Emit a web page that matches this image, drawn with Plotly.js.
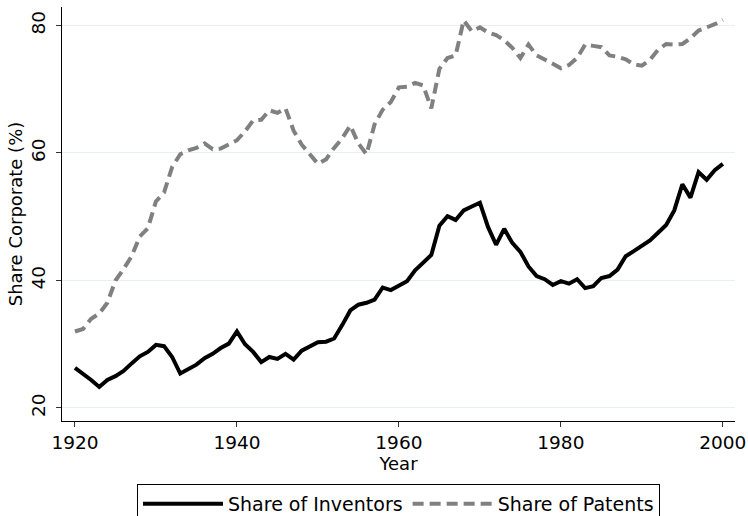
<!DOCTYPE html>
<html>
<head>
<meta charset="utf-8">
<script src="https://cdn.plot.ly/plotly-3.0.1.min.js"></script>
<style>html,body{margin:0;padding:0;background:#fff;}#chart{width:748px;height:516px;}</style>
</head>
<body>
<div id="chart"></div>
<script>
const years = [];
for (let y = 1920; y <= 2000; y++) years.push(y);

const shareInventors = [
  26.3, 25.4, 24.4, 23.3, 24.4, 25.0, 25.8, 27.0, 28.1, 28.8,
  29.9, 29.7, 28.0, 25.4, 26.1, 26.8, 27.8, 28.5, 29.4, 30.1,
  32.0, 30.0, 28.8, 27.2, 28.0, 27.7, 28.5, 27.6, 29.0, 29.6,
  30.3, 30.4, 30.9, 33.0, 35.3, 36.2, 36.5, 37.0, 38.9, 38.5,
  39.2, 39.9, 41.6, 42.8, 44.0, 48.6, 50.1, 49.5, 51.0, 51.6,
  52.2, 48.4, 45.6, 48.1, 45.9, 44.5, 42.2, 40.7, 40.2, 39.3,
  39.9, 39.5, 40.2, 38.8, 39.1, 40.4, 40.7, 41.7, 43.8, 44.6,
  45.5, 46.3, 47.5, 48.7, 51.0, 55.1, 53.0, 57.0, 55.8, 57.3,
  58.3
];

const sharePatents = [
  32.0, 32.4, 34.0, 34.8, 36.5, 40.0, 41.8, 43.8, 46.9, 48.2,
  52.4, 53.8, 57.8, 59.8, 60.4, 60.8, 61.5, 60.6, 60.7, 61.3,
  62.0, 63.4, 65.1, 65.2, 66.7, 66.3, 67.0, 63.5, 61.3, 59.8,
  58.3, 59.0, 60.8, 62.3, 64.3, 61.5, 59.8, 64.5, 66.8, 68.0,
  70.3, 70.4, 71.0, 70.6, 67.0, 73.2, 74.9, 75.3, 80.8, 79.1,
  79.7, 78.9, 78.5, 77.7, 76.5, 74.9, 77.0, 75.3, 74.7, 74.0,
  73.3, 73.8, 74.9, 77.0, 76.8, 76.6, 75.3, 75.1, 74.7, 73.9,
  73.7, 74.6, 76.2, 77.1, 77.0, 77.1, 78.0, 79.2, 79.7, 80.2,
  80.9
];

const xTicks = [1920, 1940, 1960, 1980, 2000];
const yTicks = [20, 40, 60, 80];
const seriesNames = ['Share of Inventors', 'Share of Patents'];

const font = 'DejaVu Sans, sans-serif';

const traces = [
  {
    x: years, y: shareInventors, type: 'scatter', mode: 'lines',
    name: seriesNames[0],
    line: {color: '#000000', width: 4}
  },
  {
    x: years, y: sharePatents, type: 'scatter', mode: 'lines',
    name: seriesNames[1],
    line: {color: '#808080', width: 4, dash: '11px,6px'}
  }
];

const layout = {
  width: 748, height: 516,
  margin: {l: 62, r: 13, t: 7, b: 95, autoexpand: false},
  paper_bgcolor: '#ffffff', plot_bgcolor: '#ffffff',
  font: {family: font, size: 18, color: '#000'},
  showlegend: true,
  xaxis: {
    range: [1918.4, 2001.5],
    tickvals: xTicks, ticktext: xTicks.map(String),
    ticks: 'outside', ticklen: 5, tickcolor: '#333', tickwidth: 1,
    showline: true, linecolor: '#000', linewidth: 1,
    showgrid: false, zeroline: false,
    tickfont: {family: font, size: 18.5, color: '#000'},
    title: {text: 'Year', font: {family: font, size: 18, color: '#000'}, standoff: 2}
  },
  yaxis: {
    range: [17.96, 82.9],
    tickvals: yTicks, ticktext: yTicks.map(String),
    tickangle: -90,
    ticks: 'outside', ticklen: 5, tickcolor: '#333', tickwidth: 1,
    ticklabelstandoff: 4,
    showline: true, linecolor: '#000', linewidth: 1,
    showgrid: true, gridcolor: '#e8eff1', gridwidth: 1,
    zeroline: false,
    tickfont: {family: font, size: 18.5, color: '#000'},
    title: {text: 'Share Corporate (%)', font: {family: font, size: 18, color: '#000'}, standoff: 0}
  },
  legend: {
    orientation: 'h',
    x: 0.5, xanchor: 'center',
    y: -0.152, yanchor: 'top',
    bordercolor: '#000', borderwidth: 1,
    bgcolor: '#fff',
    font: {family: font, size: 19, color: '#000'},
    itemwidth: 80,
    traceorder: 'normal'
  }
};

Plotly.newPlot('chart', traces, layout, {displayModeBar: false, staticPlot: true});
</script>
</body>
</html>
